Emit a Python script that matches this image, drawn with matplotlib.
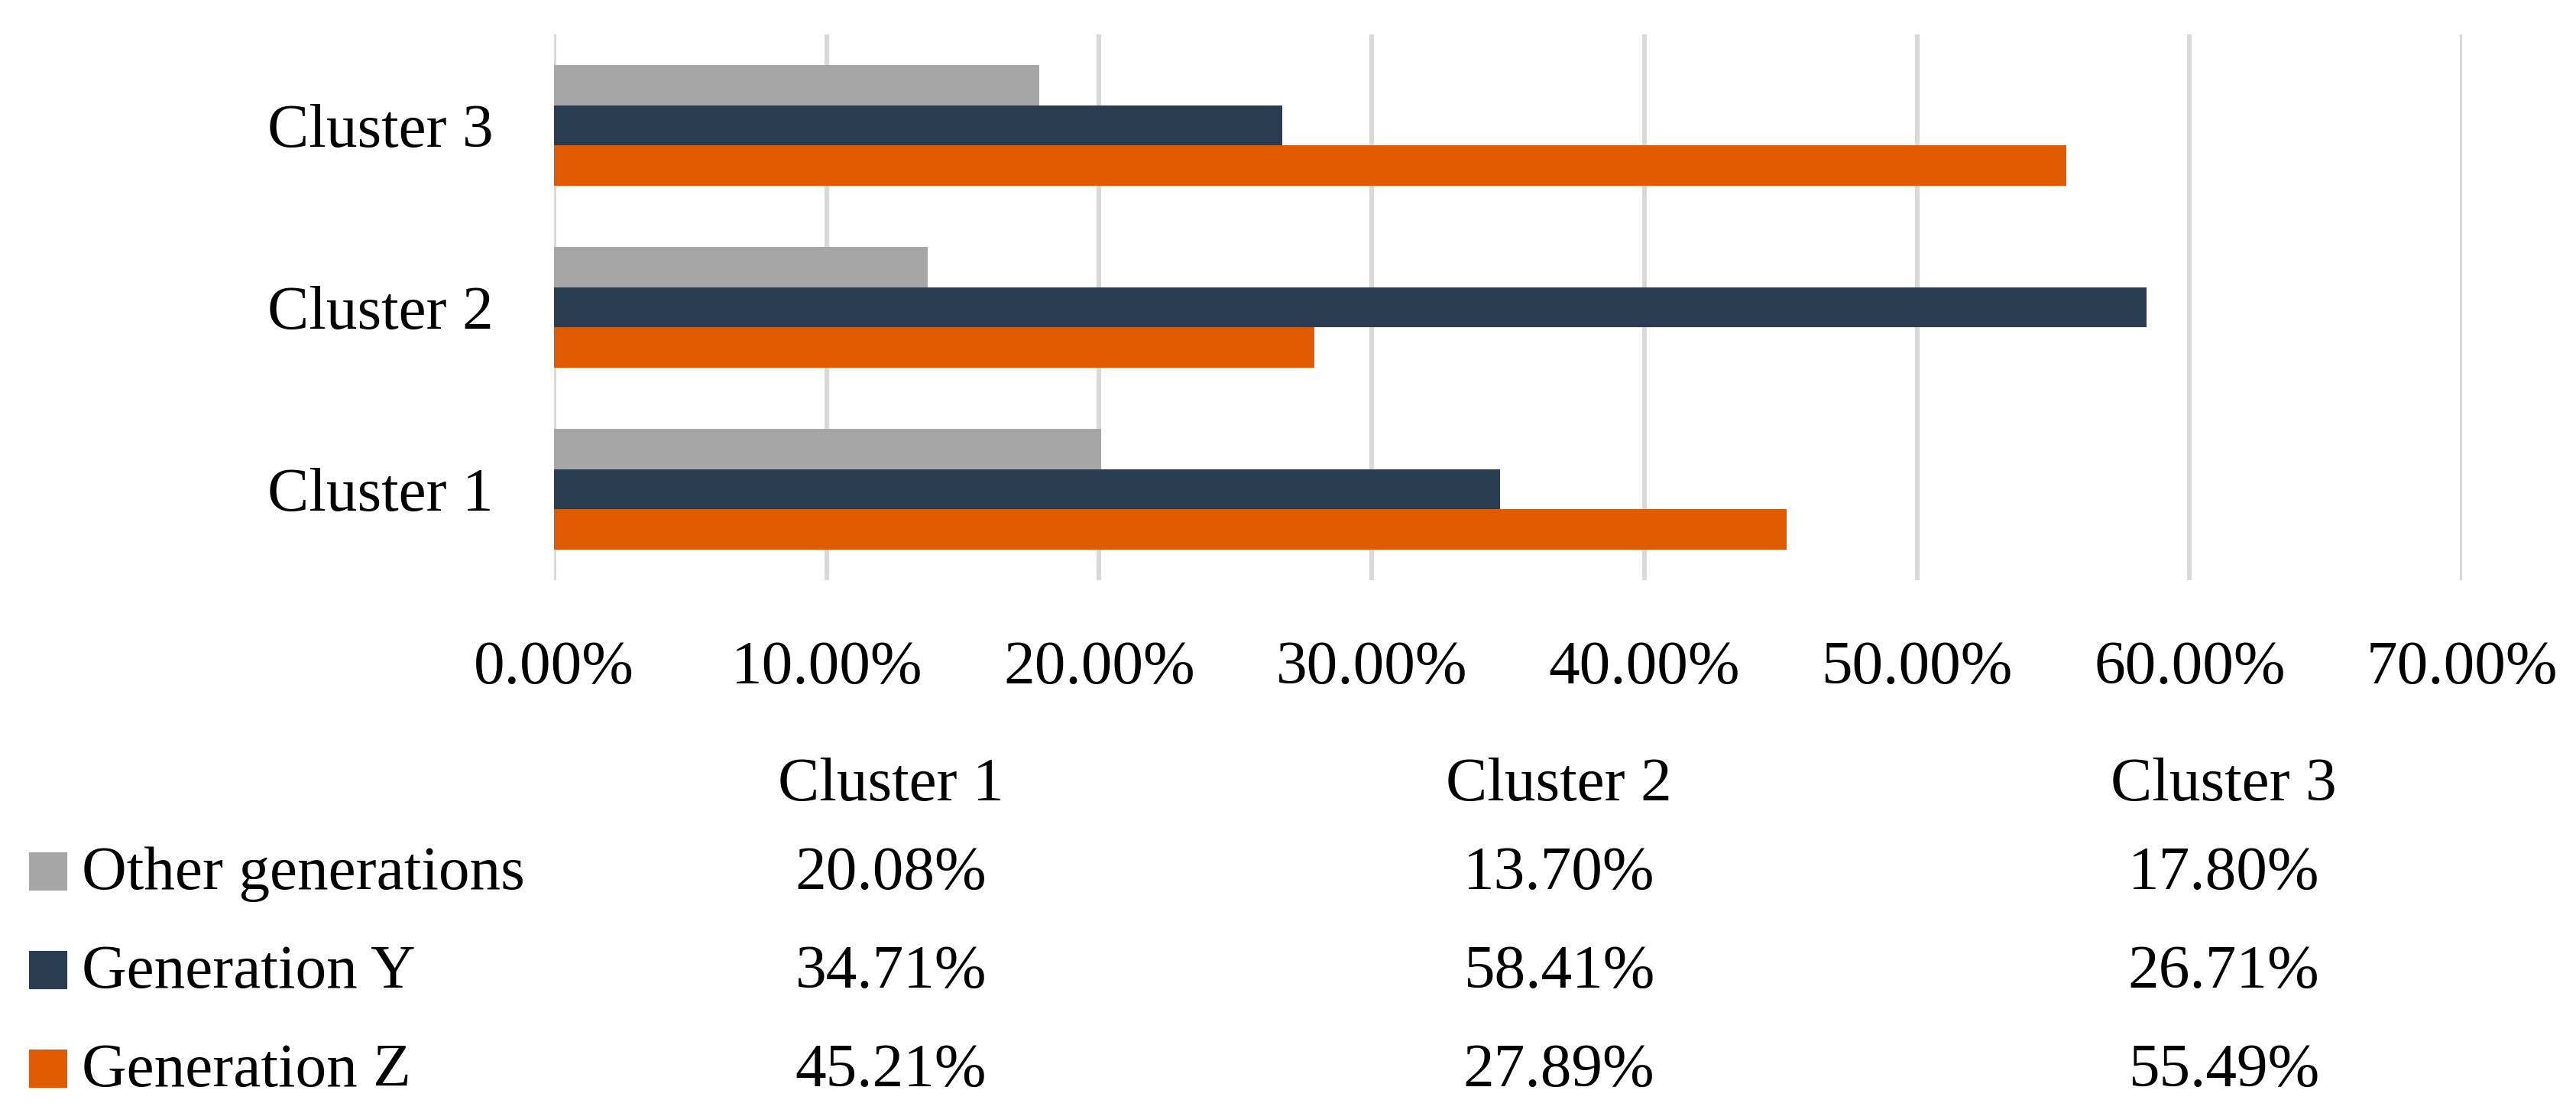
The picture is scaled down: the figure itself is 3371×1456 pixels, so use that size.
import matplotlib
matplotlib.use("Agg")
import numpy as np
from matplotlib import pyplot as plt
from matplotlib.patches import Rectangle
from matplotlib.ticker import FuncFormatter

clusters = ["Cluster 1", "Cluster 2", "Cluster 3"]
series_names = ["Other generations", "Generation Y", "Generation Z"]
other_gen = [20.08, 13.70, 17.80]
gen_y = [34.71, 58.41, 26.71]
gen_z = [45.21, 27.89, 55.49]
x_ticks = [0, 10, 20, 30, 40, 50, 60, 70]

colors = ["#A6A6A6", "#293C50", "#E05A00"]
values = [other_gen, gen_y, gen_z]

W, H = 3371, 1456
DPI = 300
FS = 19.5
plt.rcParams['font.family'] = ['Liberation Serif', 'DejaVu Serif']

fig = plt.figure(figsize=(W / DPI, H / DPI), dpi=DPI)


def fx(px):
    return px / W


def fy(py):
    return 1 - py / H


ax = fig.add_axes([fx(725), fy(759), fx(3222) - fx(725), fy(45) - fy(759)])

y = np.arange(len(clusters))
h = 0.221
offsets = [h, 0, -h]
for vals, off, col in zip(values, offsets, colors):
    ax.barh(y + off, vals, height=h, color=col, zorder=3)

ax.set_xlim(0, 70)
ax.set_ylim(-0.5, 2.5)
ax.set_xticks(x_ticks)
ax.xaxis.set_major_formatter(FuncFormatter(lambda v, p: f"{v:.2f}%"))
ax.set_yticks(y)
ax.set_yticklabels(clusters)
ax.grid(axis='x', color='#D9D9D9', linewidth=1.45, zorder=0)
ax.grid(axis='y', visible=False)
for s in ax.spines.values():
    s.set_visible(False)
ax.tick_params(axis='both', length=0, labelsize=FS)
ax.tick_params(axis='y', pad=19)
ax.tick_params(axis='x', pad=19)

# data table below the chart
col_centers = [1166, 2040, 2910]
header_base = 1047
row_bases = [1163, 1292, 1421]
for cx, name in zip(col_centers, clusters):
    fig.text(fx(cx), fy(header_base), name, ha='center', va='baseline', fontsize=FS)

for row, (name, vals, col) in enumerate(zip(series_names, values, colors)):
    base = row_bases[row]
    fig.patches.append(Rectangle((fx(40), fy(base)), fx(86) - fx(40), fy(base - 46) - fy(base),
                                 transform=fig.transFigure, color=col, figure=fig))
    fig.text(fx(107), fy(base), name, ha='left', va='baseline', fontsize=FS)
    for cx, v in zip(col_centers, vals):
        fig.text(fx(cx), fy(base), f"{v:.2f}%", ha='center', va='baseline', fontsize=FS)

fig.savefig("out.png", dpi=DPI, facecolor='white')
